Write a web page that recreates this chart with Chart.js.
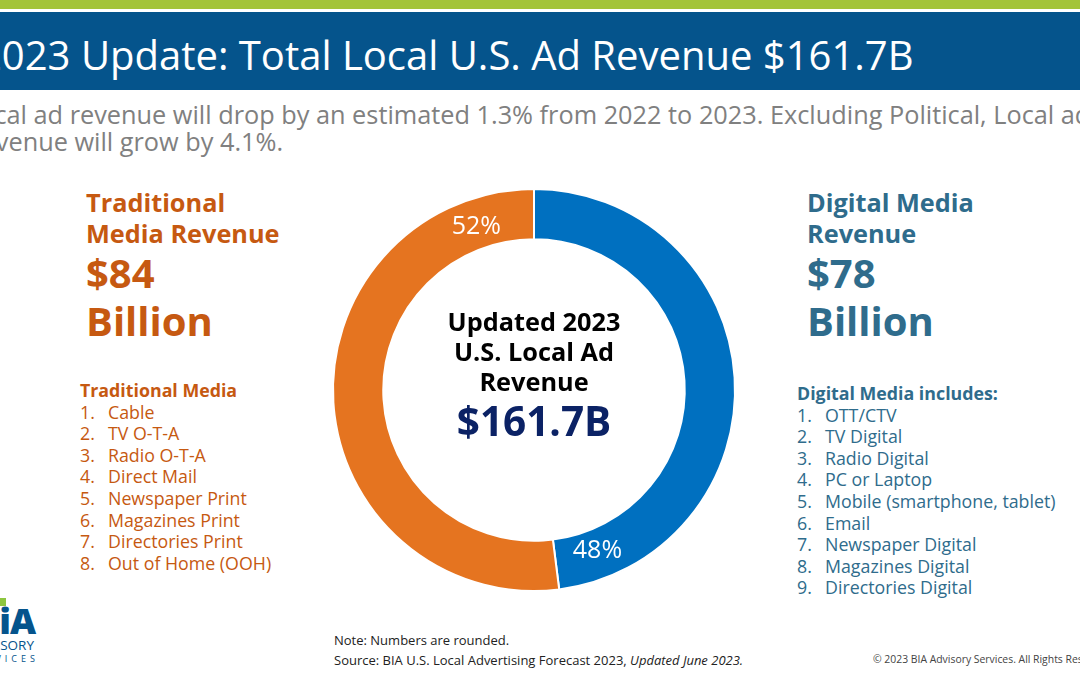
<!DOCTYPE html>
<html>
<head>
<meta charset="utf-8">
<script src="https://cdn.jsdelivr.net/npm/chart.js@4.4.0/dist/chart.umd.min.js"></script>
<style>
  html, body { margin:0; padding:0; }
  body { width:1080px; height:675px; position:relative; overflow:hidden; background:#fff; font-family:"Open Sans", sans-serif; }
  .abs { position:absolute; white-space:nowrap; }
  #green { left:0; top:0; width:1080px; height:9px; background:#A3C439; }
  #band { left:0; top:12px; width:1080px; height:78px; background:#05548C; }
  #title { left:-21px; top:31px; font-size:40px; color:#fff; line-height:48px; }
  #sub { left:-34px; top:101px; font-size:25.3px; color:#808080; line-height:27px; }
  .orange { color:#C65911; }
  .teal { color:#2F6C8C; }
  .hd { font-size:25.3px; font-weight:700; line-height:31px; }
  .money { font-size:40px; font-weight:700; line-height:48px; }
  .list { font-size:17.8px; line-height:21.6px; }
  .list b { font-weight:700; }
  .num { display:inline-block; }
  #wrap { left:324px; top:180px; width:420px; height:420px; }
  #center { left:384px; top:306px; width:300px; text-align:center; }
  #c1 { font-size:25.3px; font-weight:700; color:#000; line-height:30px; }
  #c2 { font-size:40.5px; font-weight:700; color:#0B2265; line-height:48px; margin-top:1px; }
  #note { left:334px; top:630px; font-size:13px; color:#222; line-height:20px; }
  #copy { left:873px; top:652px; font-size:10.4px; color:#444; }
</style>
</head>
<body>
<div class="abs" id="green"></div>
<div class="abs" id="band"></div>
<div class="abs" id="title">2023 Update: Total Local U.S. Ad Revenue $161.7B</div>
<div class="abs" id="sub">Local ad revenue will drop by an estimated 1.3% from 2022 to 2023. Excluding Political, Local ad<br>Revenue will grow by 4.1%.</div>

<div class="abs orange" style="left:86px; top:187px;">
  <div class="hd">Traditional<br>Media Revenue</div>
  <div class="money">$84<br>Billion</div>
</div>
<div class="abs orange list" id="tradList" style="left:80px; top:380px;"></div>

<div class="abs teal" style="left:807px; top:187px;">
  <div class="hd">Digital Media<br>Revenue</div>
  <div class="money">$78<br>Billion</div>
</div>
<div class="abs teal list" id="digList" style="left:797px; top:383px;"></div>

<div class="abs" id="wrap"><canvas id="chart"></canvas></div>
<div class="abs" id="center">
  <div id="c1">Updated 2023<br>U.S. Local Ad<br>Revenue</div>
  <div id="c2">$161.7B</div>
</div>

<div class="abs" id="note">Note: Numbers are rounded.<br>Source: BIA U.S. Local Advertising Forecast 2023, <i>Updated June 2023.</i></div>
<div class="abs" id="copy">© 2023 BIA Advisory Services. All Rights Reserved.</div>

<div class="abs" style="left:-24px; top:601px; font-size:36px; font-weight:800; color:#05548C; line-height:40px; letter-spacing:-1px;">BiA</div>
<div class="abs" style="left:-2px; top:598px; width:8px; height:8px; background:#8DC63F;"></div>
<div class="abs" style="left:-30px; top:638px; font-size:13.5px; color:#05548C; line-height:14px;">ADVISORY</div>
<div class="abs" style="left:-32px; top:653px; font-size:9px; color:#05548C; letter-spacing:4px; line-height:12px;">SERVICES</div>

<script>
const segmentLabels = ["Digital Media", "Traditional Media"];
const segmentShares = [48, 52];
const segmentColors = ["#0070C0", "#E57420"];
const traditionalItems = ["Cable", "TV O-T-A", "Radio O-T-A", "Direct Mail", "Newspaper Print", "Magazines Print", "Directories Print", "Out of Home (OOH)"];
const digitalItems = ["OTT/CTV", "TV Digital", "Radio Digital", "PC or Laptop", "Mobile (smartphone, tablet)", "Email", "Newspaper Digital", "Magazines Digital", "Directories Digital"];

function buildList(el, head, items) {
  let h = '<b>' + head + '</b>';
  items.forEach((t, i) => {
    h += '<br><span class="num" style="width:28px">' + (i + 1) + '.</span>' + t;
  });
  el.innerHTML = h;
}
buildList(document.getElementById('tradList'), 'Traditional Media', traditionalItems);
buildList(document.getElementById('digList'), 'Digital Media includes:', digitalItems);

const labelPlugin = {
  id: 'segLabels',
  afterDatasetsDraw(chart) {
    const ctx = chart.ctx;
    const meta = chart.getDatasetMeta(0);
    ctx.save();
    ctx.fillStyle = '#fff';
    ctx.font = '25px "Open Sans"';
    ctx.textAlign = 'center';
    ctx.textBaseline = 'middle';
    meta.data.forEach((arc, i) => {
      const p = arc.getProps(['x','y','startAngle','endAngle','innerRadius','outerRadius'], true);
      const offs = [0.25, 0.34];
      const a = p.endAngle - offs[i];
      const r = (p.innerRadius + p.outerRadius) / 2 - 3;
      ctx.fillText(segmentShares[i] + '%', p.x + Math.cos(a) * r, p.y + Math.sin(a) * r);
    });
    ctx.restore();
  }
};

new Chart(document.getElementById('chart'), {
  type: 'doughnut',
  data: {
    labels: segmentLabels,
    datasets: [{
      data: segmentShares,
      backgroundColor: segmentColors,
      borderColor: '#fff',
      borderWidth: 2
    }]
  },
  options: {
    responsive: true,
    maintainAspectRatio: false,
    animation: false,
    cutout: '75%',
    layout: { padding: 8 },
    plugins: { legend: { display: false }, tooltip: { enabled: false } }
  },
  plugins: [labelPlugin]
});
</script>
</body>
</html>
